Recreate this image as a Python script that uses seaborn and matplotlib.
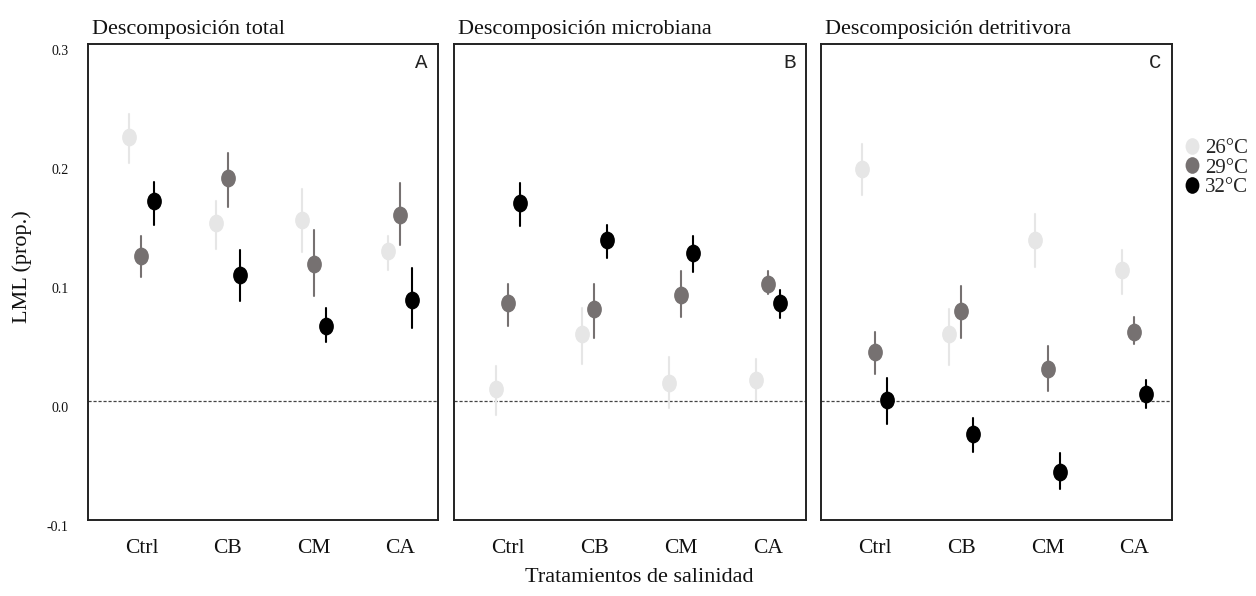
import numpy as np
import pandas as pd
import seaborn as sns
import matplotlib
matplotlib.use("Agg")
import matplotlib.pyplot as plt
from matplotlib.path import Path
from matplotlib.transforms import Affine2D, ScaledTranslation
from matplotlib.lines import Line2D

# ---------------- data ----------------
treatments = ["Ctrl", "CB", "CM", "CA"]
temps = ["26°C", "29°C", "32°C"]
panels = ["Descomposición total", "Descomposición microbiana", "Descomposición detritivora"]
panel_letters = ["A", "B", "C"]

# Panel A: total decomposition (mean, lower, upper) per temperature, by treatment
total_26_mean = [0.222, 0.150, 0.152, 0.126]
total_26_lo = [0.200, 0.128, 0.125, 0.110]
total_26_hi = [0.241, 0.168, 0.178, 0.139]
total_29_mean = [0.122, 0.187, 0.115, 0.156]
total_29_lo = [0.104, 0.163, 0.088, 0.131]
total_29_hi = [0.139, 0.208, 0.144, 0.183]
total_32_mean = [0.168, 0.106, 0.063, 0.085]
total_32_lo = [0.148, 0.084, 0.050, 0.061]
total_32_hi = [0.184, 0.127, 0.078, 0.112]

# Panel B: microbial decomposition
micro_26_mean = [0.010, 0.056, 0.015, 0.018]
micro_26_lo = [-0.012, 0.031, -0.006, 0.001]
micro_26_hi = [0.029, 0.078, 0.037, 0.035]
micro_29_mean = [0.082, 0.077, 0.089, 0.098]
micro_29_lo = [0.063, 0.053, 0.071, 0.090]
micro_29_hi = [0.098, 0.098, 0.109, 0.109]
micro_32_mean = [0.166, 0.135, 0.124, 0.082]
micro_32_lo = [0.147, 0.120, 0.108, 0.070]
micro_32_hi = [0.183, 0.148, 0.139, 0.093]

# Panel C: detritivore decomposition
detr_26_mean = [0.195, 0.056, 0.135, 0.110]
detr_26_lo = [0.173, 0.030, 0.113, 0.090]
detr_26_hi = [0.216, 0.077, 0.157, 0.127]
detr_29_mean = [0.041, 0.076, 0.027, 0.058]
detr_29_lo = [0.023, 0.053, 0.008, 0.048]
detr_29_hi = [0.058, 0.097, 0.046, 0.071]
detr_32_mean = [0.001, -0.028, -0.060, 0.006]
detr_32_lo = [-0.019, -0.043, -0.074, -0.006]
detr_32_hi = [0.019, -0.014, -0.044, 0.018]

y_ticks = [-0.1, 0.0, 0.1, 0.2, 0.3]
y_ticklabels = ["-0.1", "0.0", "0.1", "0.2", "0.3"]

colors = {"26°C": "#e6e6e6", "29°C": "#767171", "32°C": "#000000"}

series = {
    panels[0]: {
        "26°C": (total_26_mean, total_26_lo, total_26_hi),
        "29°C": (total_29_mean, total_29_lo, total_29_hi),
        "32°C": (total_32_mean, total_32_lo, total_32_hi),
    },
    panels[1]: {
        "26°C": (micro_26_mean, micro_26_lo, micro_26_hi),
        "29°C": (micro_29_mean, micro_29_lo, micro_29_hi),
        "32°C": (micro_32_mean, micro_32_lo, micro_32_hi),
    },
    panels[2]: {
        "26°C": (detr_26_mean, detr_26_lo, detr_26_hi),
        "29°C": (detr_29_mean, detr_29_lo, detr_29_hi),
        "32°C": (detr_32_mean, detr_32_lo, detr_32_hi),
    },
}

# long table: for each group store lower, mean and upper; median -> mean, min/max -> interval
rows = []
for p in panels:
    for t in temps:
        m, lo, hi = series[p][t]
        for i, tr in enumerate(treatments):
            for v in (lo[i], m[i], hi[i]):
                rows.append({"panel": p, "tratamiento": tr, "temp": t, "value": v})
df = pd.DataFrame(rows)

# ---------------- style ----------------
sns.set_theme(style="white")
plt.rcParams["font.family"] = ["Liberation Serif", "DejaVu Serif"]
plt.rcParams["axes.edgecolor"] = "#222222"

ellipse = Path.unit_circle().transformed(Affine2D().scale(0.83, 1.0))

W, H = 1256, 596
fig = plt.figure(figsize=(W / 100, H / 100), dpi=100)

ax_px = [(88, 350), (454, 352), (821, 351)]
top_px, bot_px = 44, 520
axes = []
for (lx, wx) in ax_px:
    ax = fig.add_axes([lx / W, (H - bot_px) / H, wx / W, (bot_px - top_px) / H])
    axes.append(ax)

for k, (ax, p) in enumerate(zip(axes, panels)):
    d = df[df["panel"] == p]
    sns.pointplot(
        data=d, x="tratamiento", y="value", hue="temp",
        order=treatments, hue_order=temps, palette=colors,
        estimator="median", errorbar=lambda v: (v.min(), v.max()),
        dodge=0.28, linestyle="none", markers=ellipse, markersize=12.8,
        markeredgewidth=0, err_kws={"linewidth": 1.5},
        legend=False, ax=ax,
    )
    ax.axhline(0, color="#444444", linestyle=(0, (2.5, 1.5)), linewidth=0.9, zorder=0)
    ax.set_xlim(-0.62, 3.44)
    ax.set_ylim(-0.1, 0.3)
    ax.set_xlabel("")
    ax.set_ylabel("")
    for s in ax.spines.values():
        s.set_visible(True)
        s.set_linewidth(1.4)
        s.set_color("#222222")
    ax.tick_params(axis="x", length=0, pad=14, labelsize=15.5, colors="#111111")
    ax.set_yticks(y_ticks)
    if k == 0:
        ax.set_yticklabels(y_ticklabels)
        ax.tick_params(axis="y", length=0, pad=14, labelsize=10, colors="#111111")
        for lab in ax.get_yticklabels():
            lab.set_transform(lab.get_transform() + ScaledTranslation(0, -4 / 72, fig.dpi_scale_trans))
    else:
        ax.set_yticklabels([])
        ax.tick_params(axis="y", length=0)
    ax.set_title(p, loc="left", fontsize=16, pad=7, color="#111111", x=0.01)
    ax.text(0.97, 0.982, panel_letters[k], transform=ax.transAxes, ha="right", va="top",
            fontsize=15, family="Liberation Mono", color="#222222")

fig.text(22 / W, 1 - 267 / H, "LML (prop.)", rotation=90, ha="center", va="center",
         fontsize=16, color="#111111")
fig.text(639 / W, 1 - 578 / H, "Tratamientos de salinidad", ha="center", va="center",
         fontsize=16, color="#111111")

handles = [Line2D([], [], linestyle="none", marker=ellipse, markersize=12,
                  markerfacecolor=colors[t], markeredgewidth=0) for t in temps]
fig.legend(handles, temps, loc="center left", bbox_to_anchor=(1182 / W, 1 - 168 / H),
           frameon=False, fontsize=15, labelspacing=0.0, handletextpad=0.1,
           handlelength=1.0, borderpad=0, borderaxespad=0)

fig.savefig("out.png", dpi=100)
